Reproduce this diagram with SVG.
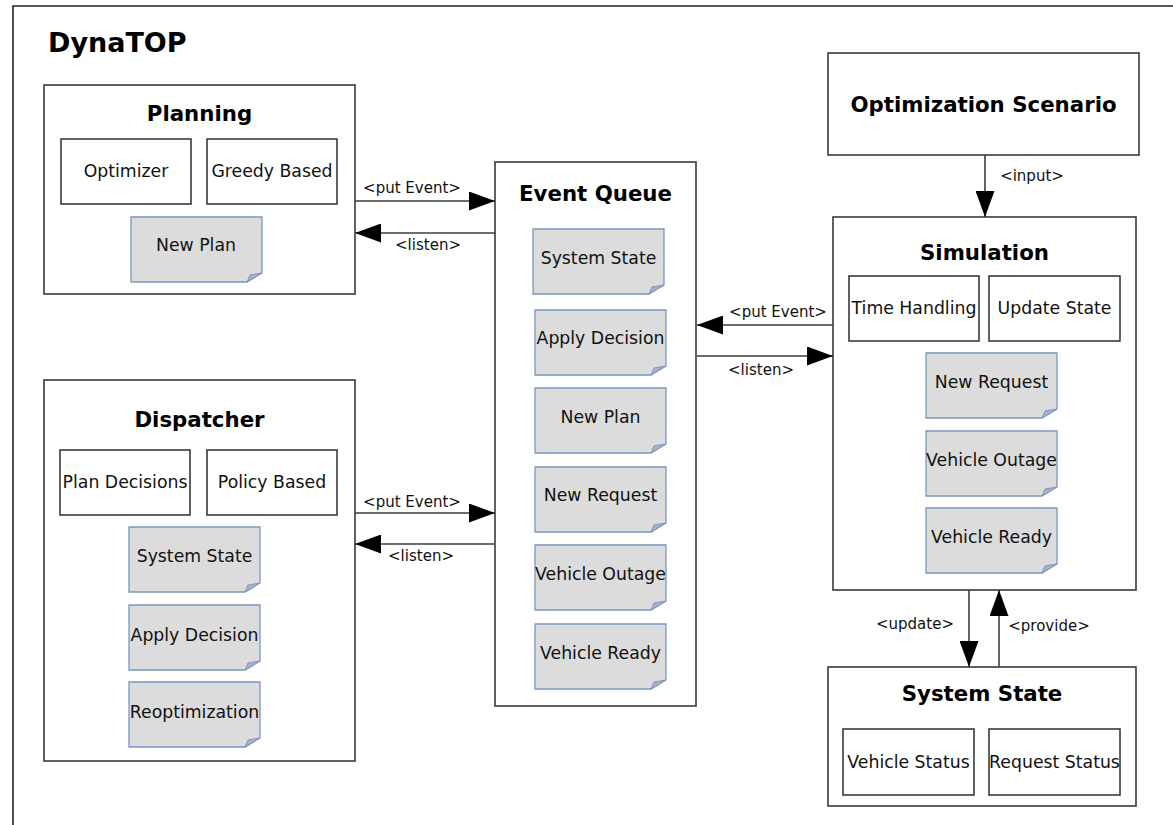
<svg xmlns="http://www.w3.org/2000/svg" xmlns:xlink="http://www.w3.org/1999/xlink" width="1173" height="825" viewBox="0 0 1173 825">
  <style>
    .box { fill: #ffffff; stroke: #3a3a3a; stroke-width: 1.6; }
    .sub { fill: #ffffff; stroke: #2e2e2e; stroke-width: 1.5; }
    .title { font-family: "DejaVu Sans", sans-serif; font-weight: bold; font-size: 21.3px; fill: #000; text-anchor: middle; }
    .lbl { font-family: "DejaVu Sans", sans-serif; font-size: 17.3px; fill: #111; text-anchor: middle; }
    .clbl { font-family: "DejaVu Sans", sans-serif; font-size: 15px; fill: #111; text-anchor: middle; }
    .conn { stroke: #3c3c3c; stroke-width: 1.6; fill: none; marker-end: url(#arrow); }
    .frame { stroke: #222; stroke-width: 1.6; fill: none; }
  </style>
  <defs>
    <marker id="arrow" markerUnits="userSpaceOnUse" markerWidth="27" markerHeight="19" refX="26" refY="9.5" orient="auto">
      <path d="M0,0 L26,9.5 L0,19 Z" fill="#000"/>
    </marker>
    <!-- event note with folded bottom-right corner -->
    <g id="note">
      <path d="M0,0 H131 V56 L116,65 H0 Z" fill="#dcdcdc" stroke="#7b96c2" stroke-width="1.3"/>
      <path d="M131,56 L116,65 L119,58 Z" fill="#a9b3c6" stroke="#7b96c2" stroke-width="1"/>
    </g>
  </defs>

  <rect width="1173" height="825" fill="#ffffff"/>

  <!-- outer frame -->
  <path class="frame" d="M13,825 V6 H1173"/>
  <text x="48" y="52" font-family="DejaVu Sans, sans-serif" font-weight="bold" font-size="27px" fill="#000">DynaTOP</text>

  <!-- Planning -->
  <g id="planning">
    <rect class="box" x="44" y="85" width="311" height="209"/>
    <text class="title" x="199.5" y="121">Planning</text>
    <rect class="sub" x="61" y="139" width="130" height="65"/>
    <text class="lbl" x="126" y="177">Optimizer</text>
    <rect class="sub" x="207" y="139" width="130" height="65"/>
    <text class="lbl" x="272" y="177">Greedy Based</text>
    <use xlink:href="#note" x="131" y="217"/>
    <text class="lbl" x="196" y="251">New Plan</text>
  </g>

  <!-- Dispatcher -->
  <g id="dispatcher">
    <rect class="box" x="44" y="380" width="311" height="381"/>
    <text class="title" x="199.5" y="427">Dispatcher</text>
    <rect class="sub" x="60" y="450" width="130" height="65"/>
    <text class="lbl" x="125" y="488">Plan Decisions</text>
    <rect class="sub" x="207" y="450" width="130" height="65"/>
    <text class="lbl" x="272" y="488">Policy Based</text>
    <use xlink:href="#note" x="129" y="527"/>
    <text class="lbl" x="194.5" y="562">System State</text>
    <use xlink:href="#note" x="129" y="605"/>
    <text class="lbl" x="194.5" y="641">Apply Decision</text>
    <use xlink:href="#note" x="129" y="682"/>
    <text class="lbl" x="194.5" y="718">Reoptimization</text>
  </g>

  <!-- Event Queue -->
  <g id="event-queue">
    <rect class="box" x="495" y="162" width="201" height="544"/>
    <text class="title" x="595.5" y="201">Event Queue</text>
    <use xlink:href="#note" x="533" y="229"/>
    <text class="lbl" x="598.5" y="264">System State</text>
    <use xlink:href="#note" x="535" y="310"/>
    <text class="lbl" x="600.5" y="344">Apply Decision</text>
    <use xlink:href="#note" x="535" y="388"/>
    <text class="lbl" x="600.5" y="423">New Plan</text>
    <use xlink:href="#note" x="535" y="467"/>
    <text class="lbl" x="600.5" y="501">New Request</text>
    <use xlink:href="#note" x="535" y="545"/>
    <text class="lbl" x="600.5" y="580">Vehicle Outage</text>
    <use xlink:href="#note" x="535" y="624"/>
    <text class="lbl" x="600.5" y="659">Vehicle Ready</text>
  </g>

  <!-- Optimization Scenario -->
  <g id="optimization-scenario">
    <rect class="box" x="828" y="53" width="311" height="102"/>
    <text class="title" x="983.5" y="112">Optimization Scenario</text>
  </g>

  <!-- Simulation -->
  <g id="simulation">
    <rect class="box" x="833" y="217" width="303" height="373"/>
    <text class="title" x="984.5" y="260">Simulation</text>
    <rect class="sub" x="849" y="276" width="130" height="65"/>
    <text class="lbl" x="914" y="314">Time Handling</text>
    <rect class="sub" x="989" y="276" width="131" height="65"/>
    <text class="lbl" x="1054.5" y="314">Update State</text>
    <use xlink:href="#note" x="926" y="353"/>
    <text class="lbl" x="991.5" y="388">New Request</text>
    <use xlink:href="#note" x="926" y="431"/>
    <text class="lbl" x="991.5" y="466">Vehicle Outage</text>
    <use xlink:href="#note" x="926" y="508"/>
    <text class="lbl" x="991.5" y="543">Vehicle Ready</text>
  </g>

  <!-- System State -->
  <g id="system-state">
    <rect class="box" x="828" y="667" width="308" height="139"/>
    <text class="title" x="982" y="701">System State</text>
    <rect class="sub" x="843" y="729" width="131" height="66"/>
    <text class="lbl" x="908.5" y="768">Vehicle Status</text>
    <rect class="sub" x="989" y="729" width="131" height="66"/>
    <text class="lbl" x="1054.5" y="768">Request Status</text>
  </g>

  <!-- connectors -->
  <g id="connectors">
    <line class="conn" x1="355" y1="201" x2="495" y2="201"/>
    <text class="clbl" x="412" y="193">&lt;put Event&gt;</text>
    <line class="conn" x1="495" y1="233" x2="355" y2="233"/>
    <text class="clbl" x="428" y="250">&lt;listen&gt;</text>

    <line class="conn" x1="355" y1="513" x2="495" y2="513"/>
    <text class="clbl" x="412" y="507">&lt;put Event&gt;</text>
    <line class="conn" x1="495" y1="544" x2="355" y2="544"/>
    <text class="clbl" x="421" y="561">&lt;listen&gt;</text>

    <line class="conn" x1="833" y1="325" x2="697" y2="325"/>
    <text class="clbl" x="778" y="317">&lt;put Event&gt;</text>
    <line class="conn" x1="697" y1="356" x2="833" y2="356"/>
    <text class="clbl" x="761" y="375">&lt;listen&gt;</text>

    <line class="conn" x1="985" y1="155" x2="985" y2="217"/>
    <text class="clbl" x="1032" y="181">&lt;input&gt;</text>

    <line class="conn" x1="969" y1="590" x2="969" y2="667"/>
    <text class="clbl" x="915" y="629">&lt;update&gt;</text>
    <line class="conn" x1="999" y1="667" x2="999" y2="590"/>
    <text class="clbl" x="1049" y="631">&lt;provide&gt;</text>
  </g>
</svg>
